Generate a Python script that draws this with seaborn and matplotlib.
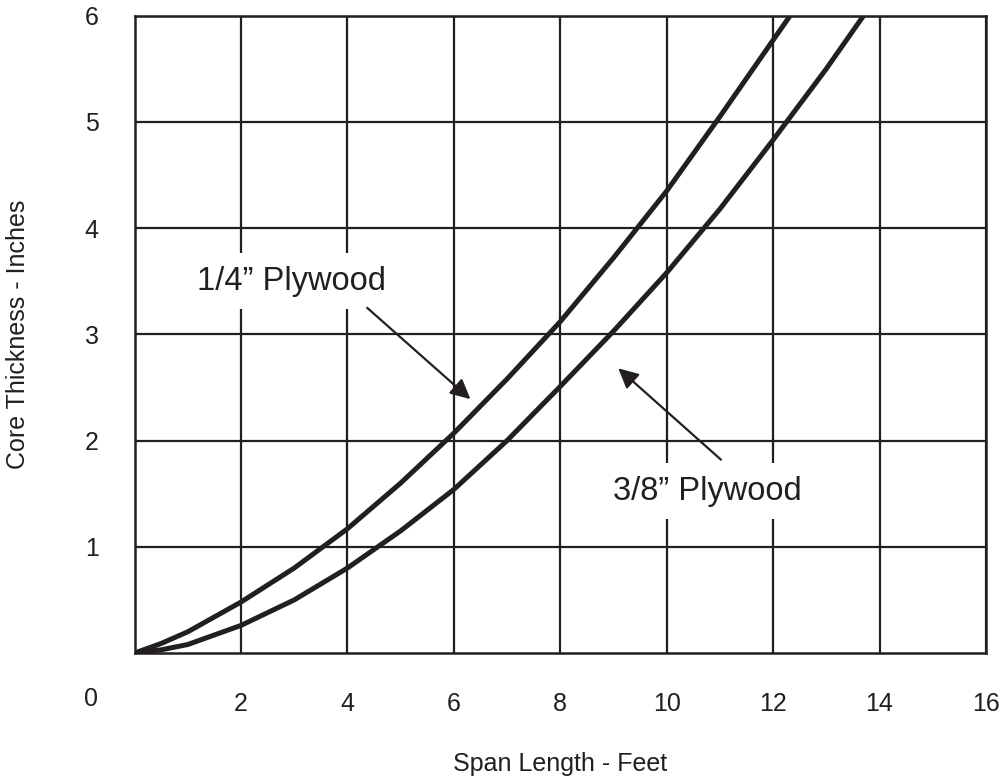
import matplotlib.pyplot as plt
import pandas as pd
import seaborn as sns

INK = "#231f20"

# values
span_quarter = [0, 0.5, 1, 2, 3, 4, 5, 6, 7, 8, 9, 10, 11, 12, 12.32]
core_quarter = [0, 0.09, 0.2, 0.48, 0.8, 1.17, 1.6, 2.07, 2.58, 3.12, 3.72, 4.35, 5.05, 5.77, 6.0]

span_three_eighths = [0, 0.5, 1, 2, 3, 4, 5, 6, 7, 8, 9, 10, 11, 12, 13, 13.7]
core_three_eighths = [0, 0.03, 0.08, 0.26, 0.5, 0.8, 1.15, 1.54, 2.0, 2.51, 3.03, 3.58, 4.18, 4.83, 5.5, 6.0]

series_names = ["1/4\u201d Plywood", "3/8\u201d Plywood"]
x_ticks = [2, 4, 6, 8, 10, 12, 14, 16]
y_ticks = [1, 2, 3, 4, 5, 6]

df = pd.concat(
    [
        pd.DataFrame({"span": span_quarter, "core": core_quarter, "plywood": series_names[0]}),
        pd.DataFrame({"span": span_three_eighths, "core": core_three_eighths, "plywood": series_names[1]}),
    ]
).reset_index(drop=True)

sns.set_style("white")
plt.rcParams["font.family"] = ["Liberation Sans", "DejaVu Sans"]

fig = plt.figure(figsize=(10.05, 7.77), dpi=100)
ax = fig.add_axes([0.134, 0.1596, 0.847, 0.8202])

sns.lineplot(
    data=df,
    x="span",
    y="core",
    hue="plywood",
    palette=[INK, INK],
    sort=False,
    linewidth=3.6,
    legend=False,
    ax=ax,
    zorder=3,
)
for line in ax.get_lines():
    line.set_solid_joinstyle("round")
    line.set_solid_capstyle("round")

ax.set_xlim(0, 16)
ax.set_ylim(0, 6)
ax.set_xticks(x_ticks)
ax.set_yticks(y_ticks)
ax.grid(True, color=INK, linewidth=1.6)
ax.set_axisbelow(True)
for spine in ax.spines.values():
    spine.set_color(INK)
    spine.set_linewidth(1.8)
    spine.set_visible(True)
ax.tick_params(length=0, labelsize=18, labelcolor=INK, pad=26)
ax.tick_params(axis="x", pad=28)

ax.annotate("0", xy=(0, 0), xytext=(-31.5, -33), textcoords="offset points",
            ha="center", va="center", fontsize=18, color=INK)

ax.set_xlabel("Span Length - Feet", fontsize=18, color=INK)
ax.set_ylabel("Core Thickness - Inches", fontsize=18, color=INK)
ax.xaxis.set_label_coords(0.5, -0.174)
ax.xaxis.label.set_va("center")
ax.yaxis.set_label_coords(-0.137, 0.5)
ax.yaxis.label.set_va("center")

box = dict(facecolor="white", edgecolor="none", pad=9)
ax.text(2.955, 3.5, series_names[0], fontsize=23.5, color=INK, ha="center", va="center",
        bbox=box, zorder=4)
ax.text(10.77, 1.525, series_names[1], fontsize=23.5, color=INK, ha="center", va="center",
        bbox=box, zorder=4)

arrow = dict(arrowstyle="-|>", mutation_scale=30, lw=1.6, color=INK, shrinkA=0, shrinkB=0)
ax.annotate("", xy=(6.31, 2.39), xytext=(4.37, 3.25), arrowprops=arrow, zorder=4)
ax.annotate("", xy=(9.09, 2.68), xytext=(11.02, 1.82), arrowprops=arrow, zorder=4)

fig.savefig("out.png", dpi=100)
plt.close(fig)
